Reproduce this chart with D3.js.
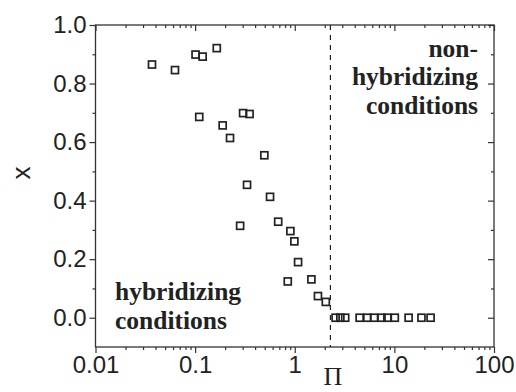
<!DOCTYPE html>
<html><head><meta charset="utf-8">
<script src="https://cdn.jsdelivr.net/npm/d3@7"></script>
<style>body{margin:0;background:#fff}svg{display:block}</style>
</head><body>
<script>
// Data
const piValues = [0.0369,0.0628,0.101,0.119,0.165,0.110,0.189,0.224,0.303,0.352,0.332,0.283,0.495,0.565,0.682,0.904,0.991,1.08,0.851,1.47,1.71,2.05,
  2.57,2.87,3.21,4.48,5.35,6.25,7.43,8.51,10.1,13.9,18.7,23.1];
const xValues = [0.865,0.846,0.899,0.892,0.921,0.686,0.657,0.614,0.699,0.696,0.454,0.314,0.555,0.413,0.328,0.296,0.261,0.190,0.124,0.131,0.074,0.054,
  0,0,0,0,0,0,0,0,0,0,0,0];
const xTickValues = [0.01,0.1,1,10,100];
const xTickLabels = ["0.01","0.1","1","10","100"];
const yTickValues = [0.0,0.2,0.4,0.6,0.8,1.0];
const yTickLabels = ["0.0","0.2","0.4","0.6","0.8","1.0"];
const threshold = 2.28;
const leftText = ["hybridizing","conditions"];
const rightText = ["non-","hybridizing","conditions"];

const W=516,H=392;
const m={l:95.5,r:22,t:25,b:45};
const svg=d3.select("body").append("svg").attr("width",W).attr("height",H);
const x=d3.scaleLog().domain([0.01,100]).range([m.l,W-m.r]);
const y=d3.scaleLinear().domain([-0.1,1.0]).range([H-m.b,m.t]);
const ink="#222";
const axisCol="#333";
const sans="'Liberation Sans',Arial,sans-serif";
const serif="'Liberation Serif','Times New Roman','DejaVu Serif',serif";

const minorX=[];
for(let e=-2;e<2;e++){for(let k=2;k<=9;k++)minorX.push(k*Math.pow(10,e));}
const minorY=d3.range(-0.1,1.0,0.2).map(v=>+v.toFixed(2)).filter(v=>v>-0.1);

function styleAxis(g){g.select(".domain").remove();g.selectAll("line").attr("stroke",axisCol).attr("stroke-width",1.2);}

// bottom
svg.append("g").attr("transform",`translate(0,${y(-0.1)})`)
  .call(d3.axisBottom(x).tickValues(xTickValues).tickFormat((d,i)=>xTickLabels[i]).tickSize(6).tickPadding(3))
  .call(styleAxis)
  .call(g=>g.selectAll("text").attr("font-family",sans).attr("font-size",24).attr("fill",ink));
svg.append("g").attr("transform",`translate(0,${y(-0.1)})`)
  .call(d3.axisBottom(x).tickValues(minorX).tickFormat("").tickSize(3)).call(styleAxis);
// top (ticks pointing down)
svg.append("g").attr("transform",`translate(0,${y(1.0)})`)
  .call(d3.axisBottom(x).tickValues(xTickValues).tickFormat("").tickSize(6)).call(styleAxis);
svg.append("g").attr("transform",`translate(0,${y(1.0)})`)
  .call(d3.axisBottom(x).tickValues(minorX).tickFormat("").tickSize(3)).call(styleAxis);
// left
svg.append("g").attr("transform",`translate(${x(0.01)},0)`)
  .call(d3.axisLeft(y).tickValues(yTickValues).tickFormat((d,i)=>yTickLabels[i]).tickSize(6).tickPadding(3))
  .call(styleAxis)
  .call(g=>g.selectAll("text").attr("font-family",sans).attr("font-size",24).attr("fill",ink));
svg.append("g").attr("transform",`translate(${x(0.01)},0)`)
  .call(d3.axisLeft(y).tickValues(minorY).tickFormat("").tickSize(3)).call(styleAxis);
// right (ticks pointing left)
svg.append("g").attr("transform",`translate(${x(100)},0)`)
  .call(d3.axisLeft(y).tickValues(yTickValues).tickFormat("").tickSize(6)).call(styleAxis);
svg.append("g").attr("transform",`translate(${x(100)},0)`)
  .call(d3.axisLeft(y).tickValues(minorY).tickFormat("").tickSize(3)).call(styleAxis);

// frame
svg.append("rect").attr("x",x(0.01)).attr("y",y(1.0)).attr("width",x(100)-x(0.01)).attr("height",y(-0.1)-y(1.0))
  .attr("fill","none").attr("stroke",axisCol).attr("stroke-width",1.3);

// threshold dashed line
svg.append("line").attr("x1",x(threshold)).attr("x2",x(threshold)).attr("y1",y(1.0)).attr("y2",y(-0.1))
  .attr("stroke",ink).attr("stroke-width",1.2).attr("stroke-dasharray","5,5");

// points
const pts=piValues.map((p,i)=>({p,v:xValues[i]}));
svg.append("g").selectAll("rect").data(pts).join("rect")
  .attr("x",d=>x(d.p)-3.5).attr("y",d=>y(d.v)-3.5).attr("width",7).attr("height",7)
  .attr("fill","none").attr("stroke",ink).attr("stroke-width",1.7);

// axis titles
svg.append("text").attr("transform",`translate(30,173) rotate(-90)`).attr("text-anchor","middle")
  .attr("font-family",sans).attr("font-size",26).attr("fill",ink).text("x");
svg.append("text").attr("x",333).attr("y",385).attr("text-anchor","middle")
  .attr("font-family",serif).attr("font-size",26).attr("fill",ink).text("Π");

// annotations
svg.append("g").selectAll("text").data(leftText).join("text")
  .attr("x",115).attr("y",(d,i)=>300+i*29).attr("font-family",serif).attr("font-weight","bold")
  .attr("font-size",25.5).attr("fill",ink).text(d=>d);
svg.append("g").selectAll("text").data(rightText).join("text")
  .attr("x",478).attr("y",(d,i)=>56.5+i*28.5).attr("text-anchor","end").attr("font-family",serif).attr("font-weight","bold")
  .attr("font-size",25.5).attr("fill",ink).text(d=>d);
</script>
</body></html>
